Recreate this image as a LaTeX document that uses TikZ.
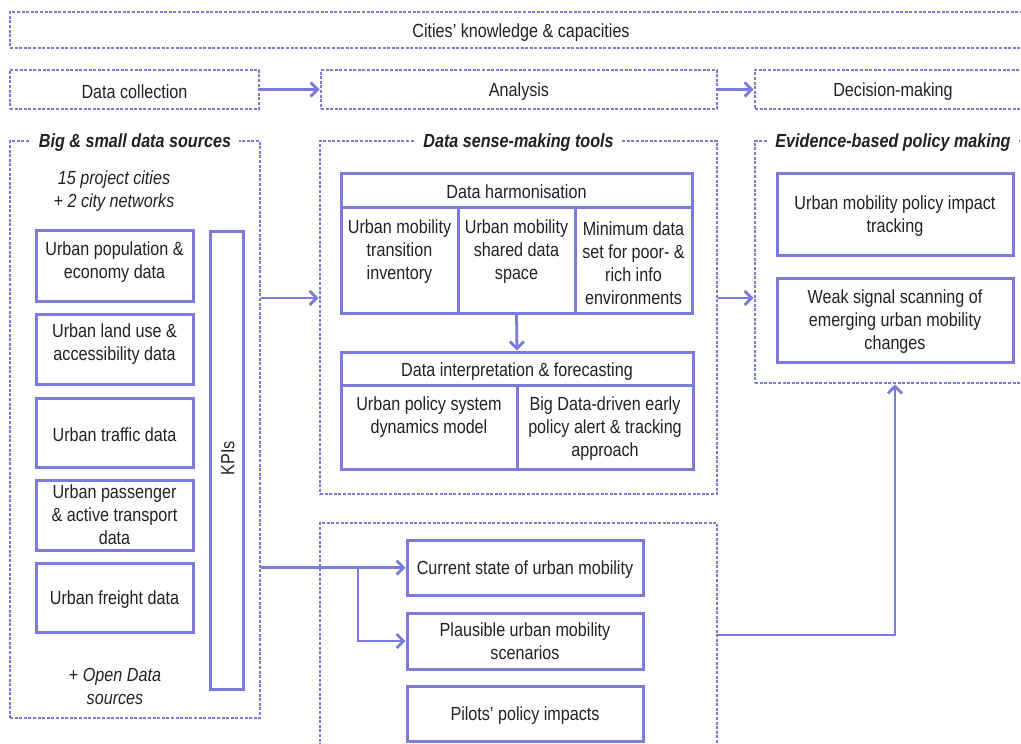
\documentclass[tikz,border=0pt]{standalone}
\usepackage{fontspec}
\setmainfont{Liberation Sans}[FakeStretch=0.85]
\usetikzlibrary{arrows.meta}
\definecolor{bl}{HTML}{7B7BDC}
\definecolor{txt}{HTML}{222222}
\begin{document}
\begin{tikzpicture}[x=1pt,y=-1pt,
  every node/.style={font=\fontsize{19}{23}\selectfont, text=txt, align=center,
    execute at begin node={\rule{0pt}{18.8pt}}},
  dbox/.style={draw=bl, line width=2.8pt, dash pattern=on 3pt off 1.6pt},
  sbox/.style={draw=bl, line width=3pt, inner sep=0pt},
  divl/.style={draw=bl, line width=3pt},
  conn/.style={draw=bl, line width=2.8pt, -{Straight Barb[length=7pt,width=14pt]}},
  ttl/.style={fill=white, font=\fontsize{19}{23}\selectfont\bfseries\itshape, inner xsep=8pt, inner ysep=0pt},
  itl/.style={font=\fontsize{19}{23}\selectfont\itshape}
]
\useasboundingbox (0,0) rectangle (1021,744);

% top rows
\node[dbox, minimum width=1022, minimum height=36] (cities) at (521,30) {Cities’ knowledge \& capacities};
\node[dbox, minimum width=249, minimum height=39] (dc) at (134.5,89.5) {Data collection};
\node[dbox, minimum width=396, minimum height=39] (an) at (519,89.5) {Analysis};
\node[dbox, minimum width=276, minimum height=39] (dm) at (893,89.5) {Decision-making};

% containers
\node[dbox, minimum width=250, minimum height=577] (big) at (135,429.5) {};
\node[ttl] (bigt) at (big.north) {Big \& small data sources};
\node[dbox, minimum width=397, minimum height=353] (sense) at (518.5,317.5) {};
\node[ttl] (senset) at (sense.north) {Data sense-making tools};
\node[dbox, minimum width=276, minimum height=242] (evid) at (893,262) {};
\node[ttl] (evidt) at (evid.north) {Evidence-based policy making};
\node[dbox, minimum width=397, minimum height=260] (bot) at (518.5,653) {};

% left column
\node[itl] (cit) at (114,191) {15 project cities\\+ 2 city networks};
\node[sbox, minimum width=157, minimum height=71] (pop) at (114.5,265.5) {};
\node (popt) at (114.5,262) {Urban population \&\\economy data};
\node[sbox, minimum width=157, minimum height=70] (land) at (114.5,349) {};
\node (landt) at (114.5,344) {Urban land use \&\\accessibility data};
\node[sbox, minimum width=157, minimum height=69] (traf) at (114.5,432.5) {Urban traffic data};
\node[sbox, minimum width=157, minimum height=70] (pass) at (114.5,515) {Urban passenger\\\& active transport\\data};
\node[sbox, minimum width=157, minimum height=69] (frei) at (114.5,597.5) {Urban freight data};
\node (open) at (115,686) {+ \textit{Open Data}\\\textit{sources}};
\node[sbox, minimum width=33, minimum height=458] (kpi) at (226.5,460) {};
\node[rotate=90, execute at begin node={}] (kpit) at (225,458) {KPIs};

% data harmonisation
\node[sbox, minimum width=351, minimum height=140] (harm) at (516.5,243) {};
\draw[divl] (341,207) -- (692,207);
\draw[divl] (458,207) -- (458,313);
\draw[divl] (575,207) -- (575,313);
\node (harmt) at (516.5,189) {Data harmonisation};
\node (h1) at (399.5,252) {Urban mobility\\transition\\inventory};
\node (h2) at (516.5,252) {Urban mobility\\shared data\\space};
\node (h3) at (633.5,263.5) {Minimum data\\set for poor- \&\\rich info\\environments};

% data interpretation
\node[sbox, minimum width=352, minimum height=117] (interp) at (517,410.5) {};
\draw[divl] (341,385) -- (693,385);
\draw[divl] (517,385) -- (517,469);
\node (interpt) at (517,369) {Data interpretation \& forecasting};
\node (i1) at (429,417.5) {Urban policy system\\dynamics model};
\node (i2) at (605,429) {Big Data-driven early\\policy alert \& tracking\\approach};

% evidence
\node[sbox, minimum width=236, minimum height=82] (impact) at (895,214) {};
\node (impactt) at (895,216.5) {Urban mobility policy impact\\tracking};
\node[sbox, minimum width=236, minimum height=84] (weak) at (895,320.5) {};
\node (weakt) at (895,321.5) {Weak signal scanning of\\emerging urban mobility\\changes};

% bottom
\node[sbox, minimum width=236, minimum height=55] (cur) at (525,567.5) {Current state of urban mobility};
\node[sbox, minimum width=236, minimum height=56] (plau) at (525,641) {Plausible urban mobility\\scenarios};
\node[sbox, minimum width=236, minimum height=55] (pil) at (525,713.5) {Pilots’ policy impacts};

% connectors
\coordinate (r1) at (0,298);
\coordinate (r2) at (0,635);
\coordinate (br) at (358,0);
\draw[conn] (dc.east) -- (an.west);
\draw[conn] (an.east) -- (dm.west);
\draw[conn] (big.east |- r1) -- (sense.west |- r1);
\draw[conn] (sense.east |- r1) -- (evid.west |- r1);
\draw[conn] (harm.south) -- (interp.north);
\draw[conn] (big.east |- cur.west) -- (cur.west);
\draw[conn] (br |- cur.west) |- (plau.west);
\draw[conn] (bot.east |- r2) -| (weak.south |- evid.south);
\end{tikzpicture}
\end{document}
